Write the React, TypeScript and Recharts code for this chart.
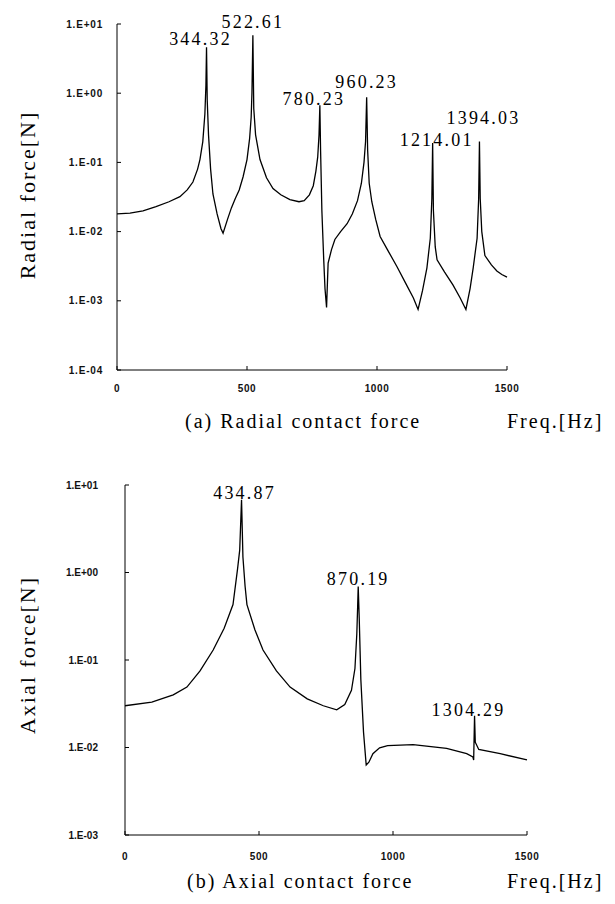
import React from 'react';
import { LineChart, Line, XAxis, YAxis, ReferenceDot } from 'recharts';

// Radial contact force spectrum (Hz, N)
const radialFreq = [
  0, 50, 100, 150, 200, 242, 270, 292, 310, 319, 330, 338, 342, 344.32, 347, 352, 360, 369, 385, 400, 408,
  425, 440, 455, 470, 485, 500, 510, 516, 519, 522.61, 526, 533, 550, 575, 600, 630, 665, 700, 720, 740,
  755, 765, 772, 777, 780.23, 783, 788, 795, 800, 806, 812, 825, 838, 860, 885, 905, 925, 940, 950, 956,
  960.23, 964, 970, 980, 995, 1012, 1040, 1077, 1110, 1140, 1158, 1175, 1192, 1205, 1211, 1214.01, 1217,
  1224, 1231, 1260, 1292, 1320, 1342, 1358, 1370, 1385, 1391, 1394.03, 1397, 1403, 1415, 1440, 1461,
  1480, 1500,
];
const radialForce = [
  0.018, 0.0185, 0.02, 0.023, 0.027, 0.032, 0.04, 0.052, 0.08, 0.11, 0.2, 0.5, 1.3, 4.6, 0.8, 0.25, 0.08,
  0.035, 0.018, 0.011, 0.0095, 0.015, 0.022, 0.03, 0.04, 0.062, 0.11, 0.22, 0.45, 1.0, 6.9, 0.6, 0.25,
  0.11, 0.06, 0.042, 0.034, 0.029, 0.027, 0.028, 0.034, 0.046, 0.075, 0.12, 0.25, 0.67, 0.15, 0.02,
  0.004, 0.0015, 0.0008, 0.0035, 0.0055, 0.0077, 0.01, 0.013, 0.018, 0.028, 0.05, 0.1, 0.2, 0.87, 0.15,
  0.05, 0.027, 0.015, 0.0085, 0.0055, 0.0031, 0.0018, 0.0011, 0.00075, 0.0014, 0.003, 0.008, 0.03, 0.19,
  0.02, 0.006, 0.0039, 0.0026, 0.0017, 0.0011, 0.00075, 0.0015, 0.003, 0.008, 0.03, 0.2, 0.03, 0.01,
  0.0045, 0.0033, 0.0027, 0.0024, 0.0022,
];
const radialPeaks = [344.32, 522.61, 780.23, 960.23, 1214.01, 1394.03];

// Axial contact force spectrum (Hz, N)
const axialFreq = [
  0, 100, 180, 231, 280, 329, 370, 403, 420, 428, 434.87, 440, 448, 455, 485, 515, 565, 616, 680, 740, 790,
  820, 845, 858, 865, 868, 870.19, 874, 880, 890, 900, 910, 925, 950, 980, 1075, 1200, 1275, 1298, 1301,
  1304.29, 1307, 1320, 1400, 1500,
];
const axialForce = [
  0.03, 0.033, 0.04, 0.049, 0.075, 0.13, 0.23, 0.43, 1.1, 1.8, 6.8, 1.5, 0.7, 0.43, 0.22, 0.13, 0.075,
  0.049, 0.036, 0.03, 0.027, 0.031, 0.045, 0.08, 0.2, 0.4, 0.69, 0.3, 0.06, 0.015, 0.0063, 0.0068,
  0.0085, 0.0099, 0.0105, 0.0108, 0.0098, 0.0085, 0.0078, 0.0072, 0.023, 0.0115, 0.0095, 0.0085, 0.0072,
];
const axialPeaks = [434.87, 870.19, 1304.29];

const radialTicks = [1e-4, 1e-3, 1e-2, 1e-1, 1, 10];
const axialTicks = [1e-3, 1e-2, 1e-1, 1, 10];
const freqTicks = [0, 500, 1000, 1500];

const radialData = radialFreq.map((f, i) => ({ f, v: radialForce[i] }));
const axialData = axialFreq.map((f, i) => ({ f, v: axialForce[i] }));

const sciLabel = (v: number) => {
  const e = Math.round(Math.log10(v));
  return `1.E${e < 0 ? '-' : '+'}${String(Math.abs(e)).padStart(2, '0')}`;
};

const serif = '"Liberation Serif", "Times New Roman", serif';
const sans = '"Liberation Sans", Arial, sans-serif';

// a few peak labels sit a little higher / off to one side
const labelShift: Record<number, [number, number]> = {
  344.32: [-6, 0],
  522.61: [0, -5],
  780.23: [-6, 2],
  960.23: [0, -7],
  1214.01: [4, 5],
  1394.03: [4, -16],
  434.87: [3, 1],
  1304.29: [-6, 2],
};

const PeakLabel = (props: any) => {
  const { viewBox, value } = props;
  const [dx, dy] = labelShift[value] || [0, 0];
  const x = viewBox.x + dx;
  const y = viewBox.y - 2 + dy;
  return (
    <text x={x} y={y} textAnchor="middle" fontFamily={serif} fontSize={18} letterSpacing={2.2} fill="#000">
      {value.toFixed(2)}
    </text>
  );
};

const tickStyleY = { fontFamily: sans, fontSize: 10, fontWeight: 700, fill: '#111', letterSpacing: 0.8 };
const tickStyleX = { fontFamily: sans, fontSize: 10, fontWeight: 700, fill: '#111', letterSpacing: 0.6 };

const caption: React.CSSProperties = {
  position: 'absolute',
  fontFamily: serif,
  fontSize: 20,
  letterSpacing: 2,
  whiteSpace: 'pre',
  color: '#000',
};

const yTitle: React.CSSProperties = {
  position: 'absolute',
  fontFamily: serif,
  fontSize: 22,
  letterSpacing: 2,
  whiteSpace: 'nowrap',
  color: '#000',
  transform: 'translate(-50%, -50%) rotate(-90deg)',
};

export default function App() {
  return (
    <div style={{ position: 'absolute', left: 0, top: 0, width: 615, height: 904, background: '#fff' }}>
      <div style={{ position: 'absolute', left: 0, top: 0 }}>
        <LineChart width={615} height={400} data={radialData} margin={{ top: 24, right: 108, bottom: 0, left: 57 }}>
          <XAxis
            dataKey="f"
            type="number"
            domain={[0, 1500]}
            ticks={freqTicks}
            height={30}
            stroke="#000"
            tickSize={-4}
            tickMargin={19}
            tick={tickStyleX}
          />
          <YAxis
            type="number"
            scale="log"
            domain={[1e-4, 10]}
            ticks={radialTicks}
            allowDataOverflow
            width={60}
            stroke="#000"
            tickSize={-4}
            tickMargin={18}
            tickFormatter={sciLabel}
            tick={tickStyleY}
          />
          <Line dataKey="v" type="linear" stroke="#000" strokeWidth={1.3} dot={false} isAnimationActive={false} />
          {radialPeaks.map(p => (
            <ReferenceDot
              key={p}
              x={p}
              y={radialForce[radialFreq.indexOf(p)]}
              r={0}
              stroke="none"
              label={<PeakLabel value={p} />}
            />
          ))}
        </LineChart>
      </div>
      <div style={{ ...yTitle, left: 28, top: 195 }}>Radial force[N]</div>
      <div style={{ ...caption, left: 185, top: 410 }}>(a) Radial contact force</div>
      <div style={{ ...caption, left: 507, top: 410 }}>Freq.[Hz]</div>

      <div style={{ position: 'absolute', left: 0, top: 450 }}>
        <LineChart width={615} height={420} data={axialData} margin={{ top: 35, right: 88, bottom: 0, left: 65 }}>
          <XAxis
            dataKey="f"
            type="number"
            domain={[0, 1500]}
            ticks={freqTicks}
            height={35}
            stroke="#000"
            tickSize={-4}
            tickMargin={22}
            tick={tickStyleX}
          />
          <YAxis
            type="number"
            scale="log"
            domain={[1e-3, 10]}
            ticks={axialTicks}
            allowDataOverflow
            width={60}
            stroke="#000"
            tickSize={-4}
            tickMargin={31}
            tickFormatter={sciLabel}
            tick={{ ...tickStyleY, letterSpacing: 0 }}
          />
          <Line dataKey="v" type="linear" stroke="#000" strokeWidth={1.3} dot={false} isAnimationActive={false} />
          {axialPeaks.map(p => (
            <ReferenceDot
              key={p}
              x={p}
              y={axialForce[axialFreq.indexOf(p)]}
              r={0}
              stroke="none"
              label={<PeakLabel value={p} />}
            />
          ))}
        </LineChart>
      </div>
      <div style={{ ...yTitle, left: 28, top: 655 }}>Axial force[N]</div>
      <div style={{ ...caption, left: 187, top: 870 }}>(b) Axial contact force</div>
      <div style={{ ...caption, left: 507, top: 870 }}>Freq.[Hz]</div>
    </div>
  );
}
